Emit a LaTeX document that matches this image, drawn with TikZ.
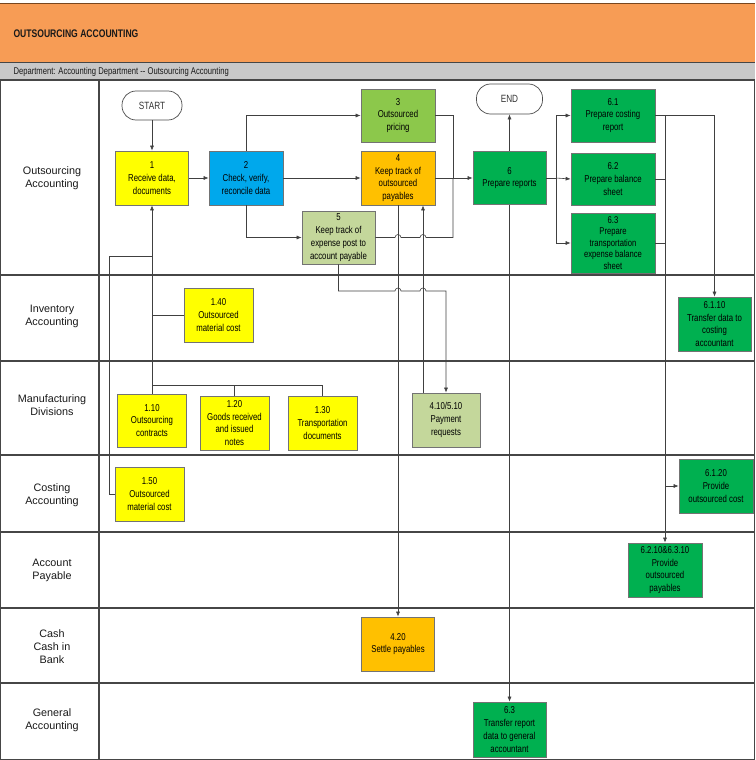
\documentclass[tikz,border=0pt]{standalone}
\usepackage{fontspec}
\setmainfont{Liberation Sans}
\newfontfamily\narrowf[FakeStretch=0.78]{Liberation Sans}
\usetikzlibrary{arrows.meta}
\definecolor{hdr}{RGB}{247,156,85}
\definecolor{hdrline}{RGB}{120,70,30}
\definecolor{band}{RGB}{200,200,200}
\definecolor{yel}{RGB}{255,255,0}
\definecolor{blu}{RGB}{0,168,236}
\definecolor{lgr}{RGB}{140,200,75}
\definecolor{org}{RGB}{255,192,0}
\definecolor{pal}{RGB}{196,215,155}
\definecolor{grn}{RGB}{0,176,80}
\definecolor{lanec}{RGB}{70,70,70}
\begin{document}
\begin{tikzpicture}[x=1pt,y=-1pt,
  box/.style={draw=black!55, line width=0.7pt, align=center, inner sep=1pt,
    font=\narrowf\fontsize{10}{12.8}\selectfont, text=black},
  term/.style={draw=black!70, line width=0.7pt, rounded corners=14pt, fill=white,
    font=\narrowf\fontsize{10.5}{12}\selectfont, text=black!80},
  lbl/.style={align=center, font=\fontsize{10.8}{13}\selectfont, text=black!90},
  ln/.style={line width=0.6pt, draw=black!75},
  arr/.style={ln, -{Latex[length=5pt,width=4pt]}},
  laneline/.style={line width=1.1pt, draw=lanec}]
\useasboundingbox (0,0) rectangle (755,760);
% header
\fill[hdr] (0,4) rectangle (755,62);
\draw[hdrline, line width=1pt] (0,4) -- (755,4);
\fill[band] (0,62) rectangle (755,80);
\draw[lanec, line width=0.8pt] (0,62) -- (755,62);
\node[anchor=west, font=\narrowf\bfseries\fontsize{11}{12}\selectfont, text=black!90] (title) at (10,34) {OUTSOURCING ACCOUNTING};
\node[anchor=west, font=\narrowf\fontsize{9.8}{12}\selectfont, text=black!90] (dept) at (10,71.5) {Department: Accounting Department -- Outsourcing Accounting};
% lanes
\draw[laneline] (0,80) -- (755,80);
\foreach \yy in {275,361,455,532,608,683} \draw[laneline] (0,\yy) -- (755,\yy);
\draw[laneline] (0.6,80) -- (0.6,759.4) -- (754.4,759.4) -- (754.4,80);
\draw[laneline] (99,80) -- (99,759.4);
\node[lbl] (L1) at (52,178) {Outsourcing\\Accounting};
\node[lbl] (L2) at (52,316) {Inventory\\Accounting};
\node[lbl] (L3) at (52,405) {Manufacturing\\Divisions};
\node[lbl] (L4) at (52,495) {Costing\\Accounting};
\node[lbl] (L5) at (52,570) {Account\\Payable};
\node[lbl] (L6) at (52,647) {Cash\\Cash in\\Bank};
\node[lbl] (L7) at (52,720) {General\\Accounting};
% nodes
\node[term, minimum width=60, minimum height=29] (start) at (152,105.5) {START};
\node[term, minimum width=66, minimum height=30] (end) at (509.5,99) {END};
\node[box, fill=yel, minimum width=73, minimum height=54] (n1) at (152,178) {1\\Receive data,\\documents};
\node[box, fill=blu, minimum width=74, minimum height=54] (n2) at (246,178) {2\\Check, verify,\\reconcile data};
\node[box, fill=lgr, minimum width=74, minimum height=53] (n3) at (398,115.5) {3\\Outsourced\\pricing};
\node[box, fill=org, minimum width=74, minimum height=54] (n4) at (398,178) {4\\Keep track of\\outsourced\\payables};
\node[box, fill=pal, minimum width=73, minimum height=53] (n5) at (338.5,237.5) {5\\Keep track of\\expense post to\\account payable};
\node[box, fill=grn, minimum width=73, minimum height=53] (n6) at (509.5,178) {6\\Prepare reports};
\node[box, fill=grn, minimum width=84, minimum height=53] (n61) at (613,115.5) {6.1\\Prepare costing\\report};
\node[box, fill=grn, minimum width=84, minimum height=52] (n62) at (613,179) {6.2\\Prepare balance\\sheet};
\node[box, fill=grn, minimum width=84, minimum height=60, inner sep=0pt, font=\narrowf\fontsize{9.8}{11.6}\selectfont] (n63) at (613,243) {6.3\\Prepare\\transportation\\expense balance\\sheet};
\node[box, fill=grn, minimum width=73, minimum height=54] (n6110) at (714.5,324) {6.1.10\\Transfer data to\\costing\\accountant};
\node[box, fill=yel, minimum width=69, minimum height=54] (n140) at (218.5,315) {1.40\\Outsourced\\material cost};
\node[box, fill=yel, minimum width=69, minimum height=53] (n110) at (152,420.5) {1.10\\Outsourcing\\contracts};
\node[box, fill=yel, minimum width=69, minimum height=54] (n120) at (234.5,423) {1.20\\Goods received\\and issued\\notes};
\node[box, fill=yel, minimum width=69, minimum height=54] (n130) at (322.5,423) {1.30\\Transportation\\documents};
\node[box, fill=pal, minimum width=68, minimum height=54] (n4105) at (446,420) {4.10/5.10\\Payment\\requests};
\node[box, fill=yel, minimum width=69, minimum height=54] (n150) at (149.5,494) {1.50\\Outsourced\\material cost};
\node[box, fill=grn, minimum width=74, minimum height=54] (n6120) at (716,486) {6.1.20\\Provide\\outsourced cost};
\node[box, fill=grn, minimum width=74, minimum height=54] (n6210) at (665,570) {6.2.10\&6.3.10\\Provide\\outsourced\\payables};
\node[box, fill=org, minimum width=73, minimum height=54] (n420) at (398,644) {4.20\\Settle payables};
\node[box, fill=grn, minimum width=73, minimum height=55] (n63t) at (509.5,729.5) {6.3\\Transfer report\\data to general\\accountant};
% junction coordinates
\coordinate (m) at (152,385);
\coordinate (m2) at (152,256);
\coordinate (j36) at (453,178);
\coordinate (sp) at (556,178);
\coordinate (tr) at (665,115.5);
% connectors
\draw[arr] (start) -- (n1);
\draw[arr] (n1) -- (n2);
\draw[arr] (n2.north) |- (n3.west);
\draw[arr] (n2) -- (n4);
\draw[arr] (n2.south) |- (n5.west);
\draw[arr] (n4) -- (n6);
\draw[ln] (n3.east) -| (j36);
\draw[ln] (n5.east) -- (395,237.5) arc[start angle=180, end angle=0, radius=3pt]
  -- (420,237.5) arc[start angle=180, end angle=0, radius=3pt] -- (453,237.5) -- (j36);
\draw[arr] (n5.south) -- (338.5,291) -- (395,291) arc[start angle=180, end angle=0, radius=3pt]
  -- (420,291) arc[start angle=180, end angle=0, radius=3pt] -- (446,291) -- (n4105.north);
\draw[arr] (n4.south) -- (n420.north);
\draw[arr] ([xshift=-23pt]n4105.north) -- ([xshift=25pt]n4.south);
\draw[arr] (n6.north) -- (end.south);
\draw[arr] (n6.south) -- (n63t.north);
\draw[ln] (n6.east) -- (sp);
\draw[arr] (sp) |- (n61.west);
\draw[arr] (sp) -- (n62.west);
\draw[arr] (sp) |- (n63.west);
\draw[arr] (n61.east) -| (n6110.north);
\draw[ln] (n62.east) -- (n62.east -| tr);
\draw[ln] (n63.east) -- (n63.east -| tr);
\draw[arr] (tr) -- (n6210.north);
\draw[arr] (n6120.west -| tr) -- (n6120.west);
\draw[arr] (n110.north) -- (n1.south);
\draw[ln] (n120.north) |- (m);
\draw[ln] (n130.north) |- (m);
\draw[ln] (n140.west) -- (n140.west -| m);
\draw[ln] (n150.west) -- ++(-5,0) |- (m2);
\end{tikzpicture}
\end{document}
